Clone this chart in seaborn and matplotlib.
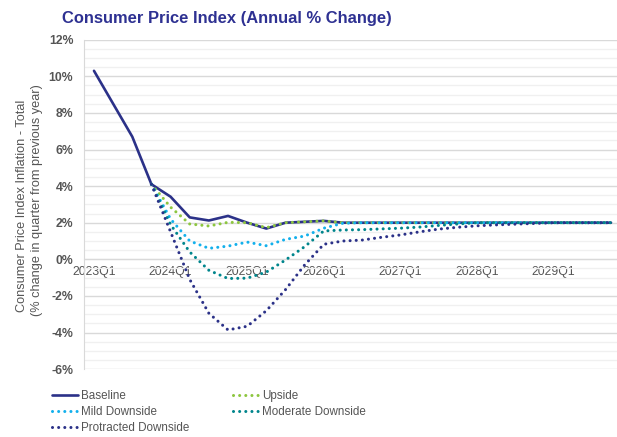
import matplotlib
matplotlib.use("Agg")
import matplotlib.pyplot as plt
import numpy as np
import pandas as pd
import seaborn as sns

# quarters 2023Q1 .. 2029Q4
quarters = [f"{y}Q{q}" for y in range(2023, 2030) for q in range(1, 5)]

nan = np.nan
baseline = [10.3, 8.5, 6.7, 4.1, 3.42, 2.29, 2.12, 2.37, 2.0, 1.68, 2.0, 2.05,
            2.1, 2.0, 2.0, 2.0, 2.0, 2.0, 2.0, 2.0, 2.0, 2.0, 2.0, 2.0,
            2.0, 2.0, 2.0, 2.0]
upside = [nan, nan, nan, 4.1, 2.85, 1.93, 1.82, 2.02, 2.0, 1.73, 2.0, 2.05,
          2.1, 2.0, 2.0, 2.0, 2.0, 2.0, 2.0, 2.0, 2.0, 2.0, 2.0, 2.0,
          2.0, 2.0, 2.0, 2.0]
mild = [nan, nan, nan, 4.1, 2.2, 1.0, 0.6, 0.72, 0.94, 0.74, 1.09, 1.27,
        1.7, 1.97, 2.0, 2.0, 2.0, 2.0, 2.0, 2.0, 2.0, 2.0, 2.0, 2.0,
        2.0, 2.0, 2.0, 2.0]
moderate = [nan, nan, nan, 4.1, 1.9, 0.4, -0.6, -1.05, -1.03, -0.7, -0.04, 0.69,
            1.55, 1.6, 1.62, 1.66, 1.7, 1.76, 1.85, 1.93, 2.0, 2.0, 2.0, 2.0,
            2.0, 2.0, 2.0, 2.0]
protracted = [nan, nan, nan, 4.1, 1.5, -1.1, -2.95, -3.86, -3.66, -2.81, -1.66, -0.31,
              0.82, 1.0, 1.05, 1.2, 1.33, 1.5, 1.65, 1.75, 1.83, 1.88, 1.92, 1.96,
              2.0, 2.0, 2.0, 2.0]

series = {
    "Baseline": baseline,
    "Upside": upside,
    "Mild Downside": mild,
    "Moderate Downside": moderate,
    "Protracted Downside": protracted,
}
colors = {
    "Baseline": "#2B3188",
    "Upside": "#8DC63F",
    "Mild Downside": "#13B0EC",
    "Moderate Downside": "#00858C",
    "Protracted Downside": "#2B3188",
}

df = pd.DataFrame(series)
df["idx"] = np.arange(len(quarters))

sns.set_style("white")
plt.rcParams["font.family"] = ["Liberation Sans", "DejaVu Sans"]

W, H = 617, 437
fig = plt.figure(figsize=(W / 100, H / 100), dpi=100)
ax = fig.add_axes([84.4 / W, 1 - 369.1 / H, (620.6 - 84.4) / W, (369.1 - 39.7) / H])

grey = "#555555"
dot_style = (0, (0.01, 2.0))

lines = {}
for name in series:
    if name == "Baseline":
        sns.lineplot(data=df, x="idx", y=name, ax=ax, color=colors[name], linewidth=1.9,
                     label=name, zorder=3)
    else:
        sns.lineplot(data=df, x="idx", y=name, ax=ax, color=colors[name], linewidth=2.2,
                     linestyle=dot_style, dash_capstyle="round", label=name, zorder=4)
    lines[name] = ax.get_lines()[-1]

ax.set_xlim(-0.5, len(quarters) - 0.5)
ax.set_ylim(-6, 12)
ax.set_yticks(np.arange(-6, 13, 2))
ax.set_yticklabels([f"{v}%" for v in range(-6, 13, 2)])
ax.set_yticks(np.arange(-6, 12.01, 0.5), minor=True)
ax.grid(which="major", axis="y", color="#D9D9D9", linewidth=1.0, zorder=0)
ax.grid(which="minor", axis="y", color="#F0F0F0", linewidth=1.0, zorder=0)
ax.set_axisbelow(True)

# category labels at every 4th quarter, tick marks at category boundaries
label_pos = list(range(0, len(quarters), 4))
ax.set_xticks(label_pos)
ax.set_xticklabels([quarters[i] for i in label_pos])
ax.set_xticks([i - 0.5 for i in label_pos[1:]], minor=True)
ax.tick_params(axis="x", which="major", length=0, pad=5, labelsize=8.8, labelcolor=grey)
ax.tick_params(axis="x", which="minor", length=7, direction="inout", color="#D9D9D9", width=1)
ax.tick_params(axis="y", which="both", length=0, pad=8, labelsize=8.8, labelcolor=grey)
for lbl in ax.get_xticklabels() + ax.get_yticklabels():
    lbl.set_fontweight("bold")

for s in ["top", "right"]:
    ax.spines[s].set_visible(False)
ax.spines["bottom"].set_position(("data", 0))
ax.spines["bottom"].set_color("#D9D9D9")
ax.spines["left"].set_color("#D9D9D9")
ax.set_xlabel("")
ax.set_ylabel("")

fig.text(62 / W, 1 - 18 / H, "Consumer Price Index (Annual % Change)", fontsize=11.9,
         fontweight="bold", color="#2E3192", ha="left", va="center")
fig.text(22 / W, 1 - 206 / H, "Consumer Price Index Inflation - Total", rotation=90,
         fontsize=9.2, color=grey, ha="center", va="center")
fig.text(37 / W, 1 - 200 / H, "(% change in quarter from previous year)", rotation=90,
         fontsize=9.2, color=grey, ha="center", va="center")

ax.get_legend().remove()
order = ["Baseline", "Mild Downside", "Protracted Downside", "Upside", "Moderate Downside"]
leg = fig.legend([lines[n] for n in order], order, loc="upper left",
                 bbox_to_anchor=(52 / W, 1 - 390 / H), ncol=2, frameon=False,
                 fontsize=8.4, handlelength=2.2, handletextpad=0.3, labelspacing=0.36,
                 columnspacing=3.7, borderpad=0, borderaxespad=0)
for t in leg.get_texts():
    t.set_color(grey)

fig.savefig("out.png", dpi=100)
